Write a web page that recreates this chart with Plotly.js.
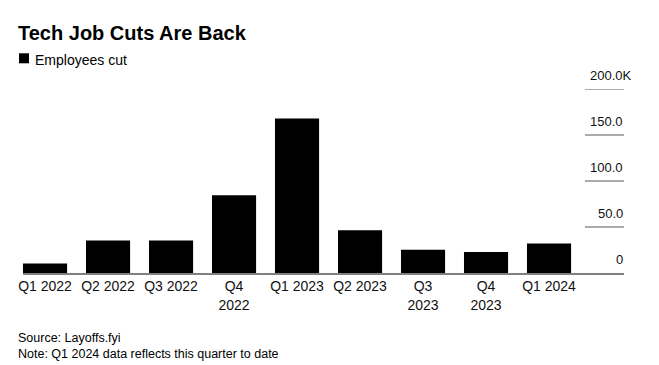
<!DOCTYPE html>
<html>
<head>
<meta charset="utf-8">
<script src="https://cdn.plot.ly/plotly-3.0.1.min.js"></script>
<style>html,body{margin:0;padding:0;background:#fff;}#chart{width:659px;height:365px;}</style>
</head>
<body>
<div id="chart"></div>
<script>
// Data (employees cut, thousands)
const categories = ["Q1 2022","Q2 2022","Q3 2022","Q4 2022","Q1 2023","Q2 2023","Q3 2023","Q4 2023","Q1 2024"];
const tickLabels = ["Q1 2022","Q2 2022","Q3 2022","Q4<br>2022","Q1 2023","Q2 2023","Q3<br>2023","Q4<br>2023","Q1 2024"];
const employeesCut = [10.2, 35.2, 35.2, 84.5, 167.8, 46.4, 25.4, 22.8, 32.0];
const yTickValues = [0, 50, 100, 150, 200];
const yTickLabels = ["0", "50.0", "100.0", "150.0", "200.0K"];

const W = 659, H = 365;
const M = {l: 23, r: 35, t: 89, b: 92};
const PW = W - M.l - M.r, PH = H - M.t - M.b;
const px = x => (x - M.l) / PW;
const py = y => (H - M.b - y) / PH;
const FONT = "Liberation Sans, Arial, Helvetica, sans-serif";

const shapes = [];
const annotations = [];

// legend square
shapes.push({type: "rect", xref: "paper", yref: "paper",
  x0: px(19), x1: px(29), y0: py(63.3), y1: py(53.3),
  fillcolor: "#000", line: {width: 0}});

// gridlines (short, right side) and value labels
yTickValues.forEach((v, i) => {
  if (v > 0) {
    shapes.push({type: "line", xref: "paper", yref: "y",
      x0: px(585), x1: 1, y0: v, y1: v,
      line: {color: "#8f8f8f", width: 1.5}});
  }
  const last = i === yTickValues.length - 1;
  annotations.push({xref: "paper", yref: "y", x: 1, y: v,
    xanchor: "right", yanchor: "bottom", xshift: last ? 10 : 1, yshift: 4.5,
    text: yTickLabels[i], showarrow: false,
    font: {family: FONT, size: 13, color: "#111"}});
});

// title
annotations.push({xref: "paper", yref: "paper", x: px(16), y: py(20),
  xanchor: "left", yanchor: "top", showarrow: false,
  text: "<b>Tech Job Cuts Are Back</b>",
  font: {family: FONT, size: 20, color: "#000"}});
// legend text
annotations.push({xref: "paper", yref: "paper", x: px(33), y: py(50),
  xanchor: "left", yanchor: "top", showarrow: false,
  text: "Employees cut",
  font: {family: FONT, size: 14, color: "#000"}});
// footer
annotations.push({xref: "paper", yref: "paper", x: px(16), y: py(329),
  xanchor: "left", yanchor: "top", align: "left", showarrow: false,
  text: "Source: Layoffs.fyi<br>Note: Q1 2024 data reflects this quarter to date",
  font: {family: FONT, size: 12.5, color: "#000"}});

const trace = {
  type: "bar",
  x: categories,
  y: employeesCut,
  marker: {color: "#000", line: {width: 0}},
  showlegend: false,
  hoverinfo: "none"
};

const layout = {
  width: W, height: H,
  margin: M,
  paper_bgcolor: "#fff", plot_bgcolor: "#fff",
  bargap: 0.3,
  showlegend: false,
  xaxis: {
    type: "category",
    range: [-0.35, 9.19],
    tickvals: categories,
    ticktext: tickLabels,
    showgrid: false, zeroline: false,
    showline: true, linecolor: "#808080", linewidth: 1.5,
    ticks: "", ticklen: 0,
    tickfont: {family: FONT, size: 14, color: "#111"},
    fixedrange: true
  },
  yaxis: {
    range: [0, 200],
    showgrid: false, zeroline: false, showline: false,
    showticklabels: false, ticks: "",
    fixedrange: true
  },
  shapes: shapes,
  annotations: annotations
};

Plotly.newPlot("chart", [trace], layout, {staticPlot: true, displayModeBar: false});
</script>
</body>
</html>
